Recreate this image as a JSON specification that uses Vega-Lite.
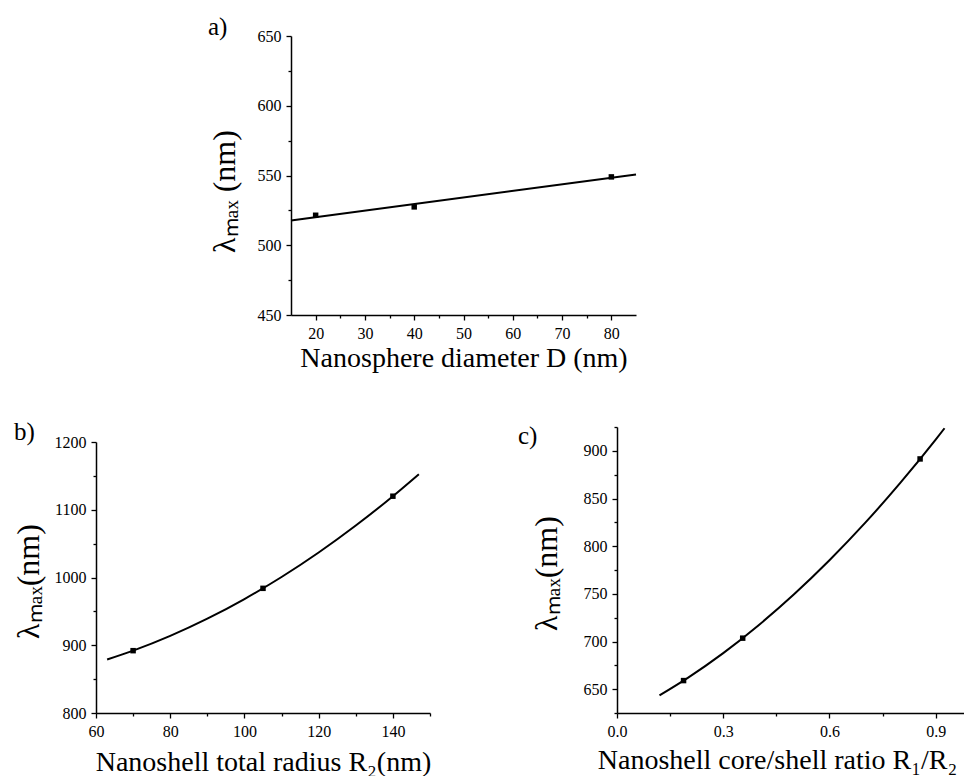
{
  "$schema": "https://vega.github.io/schema/vega-lite/v6.json",
  "padding": {"left": 12, "top": 15, "right": 0, "bottom": 0},
  "background": "white",
  "config": {
    "view": {"stroke": null},
    "font": "Liberation Serif",
    "axis": {
      "grid": false,
      "domainColor": "black",
      "domainWidth": 1.5,
      "tickColor": "black",
      "tickWidth": 1.3,
      "labelColor": "black",
      "labelFont": "Liberation Serif",
      "labelFontSize": 16,
      "labelPadding": 5,
      "labelFlush": false,
      "labelOverlap": false,
      "titleFont": "Liberation Serif",
      "titleFontWeight": "normal",
      "titleColor": "black",
      "titleFontSize": 28
    },
    "axisY": {"titleFontSize": 32}
  },
  "datasets": {
    "a_pts": [{"x": 20, "y": 521.5}, {"x": 40, "y": 527.5}, {"x": 80, "y": 549}],
    "a_fit": [{"x": 15, "y": 517.8}, {"x": 85, "y": 550.7}],
    "b_pts": [{"x": 70, "y": 892}, {"x": 105, "y": 984}, {"x": 140, "y": 1120}],
    "b_fit": [
      {"x": 63, "y": 878.9}, {"x": 70, "y": 892}, {"x": 80, "y": 913.8}, {"x": 90, "y": 939.2},
      {"x": 100, "y": 968.2}, {"x": 110, "y": 1000.7}, {"x": 120, "y": 1036.9}, {"x": 130, "y": 1076.7},
      {"x": 140, "y": 1120}, {"x": 147, "y": 1152.5}
    ],
    "c_pts": [{"x": 0.188, "y": 659}, {"x": 0.355, "y": 703.5}, {"x": 0.856, "y": 891.5}],
    "c_fit": [
      {"x": 0.12, "y": 643.5}, {"x": 0.2, "y": 661.9}, {"x": 0.3, "y": 687.8}, {"x": 0.4, "y": 717.1},
      {"x": 0.5, "y": 749.5}, {"x": 0.6, "y": 785.2}, {"x": 0.7, "y": 824.1}, {"x": 0.8, "y": 866.4},
      {"x": 0.9, "y": 911.8}, {"x": 0.925, "y": 923.7}
    ]
  },
  "bounds": "flush",
  "spacing": 112,
  "vconcat": [
    {
      "width": 540,
      "height": 279,
      "title": {"text": "a)", "anchor": "start", "frame": "group", "orient": "top", "align": "left", "baseline": "bottom", "offset": 0, "dx": 112, "dy": 37, "fontSize": 25, "fontWeight": "normal", "font": "Liberation Serif", "color": "black"},
      "layer": [
        {
          "data": {"name": "a_fit"},
          "mark": {"type": "line", "color": "black", "strokeWidth": 2},
          "encoding": {
            "x": {"field": "x", "type": "quantitative",
              "scale": {"domain": [15, 85], "range": [195, 540], "nice": false, "zero": false},
              "axis": {"title": "Nanosphere diameter D (nm)", "titlePadding": 3, "format": "d", "tickCount": 100,
                "values": [20, 25, 30, 35, 40, 45, 50, 55, 60, 65, 70, 75, 80],
                "labelExpr": "datum.value % 10 === 0 ? datum.label : ''",
                "tickSize": {"condition": {"test": "datum.value % 10 === 0", "value": 5}, "value": 3}}},
            "y": {"field": "y", "type": "quantitative",
              "scale": {"domain": [450, 650], "nice": false, "zero": false},
              "axis": {"title": "λₘₐₓ (nm)", "titlePadding": 16, "titleY": 155, "offset": -195, "format": "d", "tickCount": 100,
                "values": [450, 475, 500, 525, 550, 575, 600, 625, 650],
                "labelExpr": "datum.value % 50 === 0 ? datum.label : ''",
                "tickSize": {"condition": {"test": "datum.value % 50 === 0", "value": 5}, "value": 3}}}
          }
        },
        {
          "data": {"name": "a_pts"},
          "mark": {"type": "square", "size": 30, "color": "black", "opacity": 1},
          "encoding": {
            "x": {"field": "x", "type": "quantitative"},
            "y": {"field": "y", "type": "quantitative"}
          }
        }
      ]
    },
    {
      "bounds": "flush",
      "spacing": 187,
      "hconcat": [
        {
          "width": 334,
          "height": 286,
          "title": {"text": "b)", "anchor": "start", "frame": "group", "orient": "top", "align": "left", "baseline": "bottom", "offset": 0, "dx": -82, "dy": 43, "fontSize": 25, "fontWeight": "normal", "font": "Liberation Serif", "color": "black"},
          "layer": [
            {
              "data": {"name": "b_fit"},
              "mark": {"type": "line", "color": "black", "strokeWidth": 2, "interpolate": "monotone"},
              "encoding": {
                "x": {"field": "x", "type": "quantitative",
                  "scale": {"domain": [60, 150], "nice": false, "zero": false},
                  "axis": {"title": "Nanoshell total radius R₂(nm)", "titlePadding": 9, "format": "d", "tickCount": 100,
                    "values": [60, 70, 80, 90, 100, 110, 120, 130, 140, 150],
                    "labelExpr": "datum.value % 20 === 0 ? datum.label : ''",
                    "tickSize": {"condition": {"test": "datum.value % 20 === 0", "value": 5}, "value": 3}}},
                "y": {"field": "y", "type": "quantitative",
                  "scale": {"domain": [800, 1200], "range": [286, 15], "nice": false, "zero": false},
                  "axis": {"title": "λₘₐₓ(nm)", "titlePadding": 9, "titleY": 154, "format": "d", "tickCount": 100,
                    "values": [800, 850, 900, 950, 1000, 1050, 1100, 1150, 1200],
                    "labelExpr": "datum.value % 100 === 0 ? datum.label : ''",
                    "tickSize": {"condition": {"test": "datum.value % 100 === 0", "value": 5}, "value": 3}}}
              }
            },
            {
              "data": {"name": "b_pts"},
              "mark": {"type": "square", "size": 30, "color": "black", "opacity": 1},
              "encoding": {
                "x": {"field": "x", "type": "quantitative"},
                "y": {"field": "y", "type": "quantitative"}
              }
            }
          ]
        },
        {
          "width": 347,
          "height": 286,
          "title": {"text": "c)", "anchor": "start", "frame": "group", "orient": "top", "align": "left", "baseline": "bottom", "offset": 0, "dx": -99, "dy": 55, "fontSize": 25, "fontWeight": "normal", "font": "Liberation Serif", "color": "black"},
          "layer": [
            {
              "data": {"name": "c_fit"},
              "mark": {"type": "line", "color": "black", "strokeWidth": 2, "interpolate": "monotone"},
              "encoding": {
                "x": {"field": "x", "type": "quantitative",
                  "scale": {"domain": [0, 0.98], "nice": false, "zero": false},
                  "axis": {"title": "Nanoshell core/shell ratio R₁/R₂", "titlePadding": 7, "titleX": 160, "format": ".1f", "tickCount": 100,
                    "values": [0, 0.15, 0.3, 0.45, 0.6, 0.75, 0.9],
                    "labelExpr": "round(datum.value * 100) % 30 === 0 ? datum.label : ''",
                    "tickSize": {"condition": {"test": "round(datum.value * 100) % 30 === 0", "value": 5}, "value": 3}}},
                "y": {"field": "y", "type": "quantitative",
                  "scale": {"domain": [625, 925], "nice": false, "zero": false},
                  "axis": {"title": "λₘₐₓ(nm)", "titlePadding": 20, "titleY": 146, "format": "d", "tickCount": 100,
                    "values": [625, 650, 675, 700, 725, 750, 775, 800, 825, 850, 875, 900, 925],
                    "labelExpr": "datum.value % 50 == 0 ? datum.label : ''",
                    "tickSize": {"condition": {"test": "datum.value % 50 == 0", "value": 5}, "value": 3}}}
              }
            },
            {
              "data": {"name": "c_pts"},
              "mark": {"type": "square", "size": 30, "color": "black", "opacity": 1},
              "encoding": {
                "x": {"field": "x", "type": "quantitative"},
                "y": {"field": "y", "type": "quantitative"}
              }
            }
          ]
        }
      ]
    }
  ]
}
